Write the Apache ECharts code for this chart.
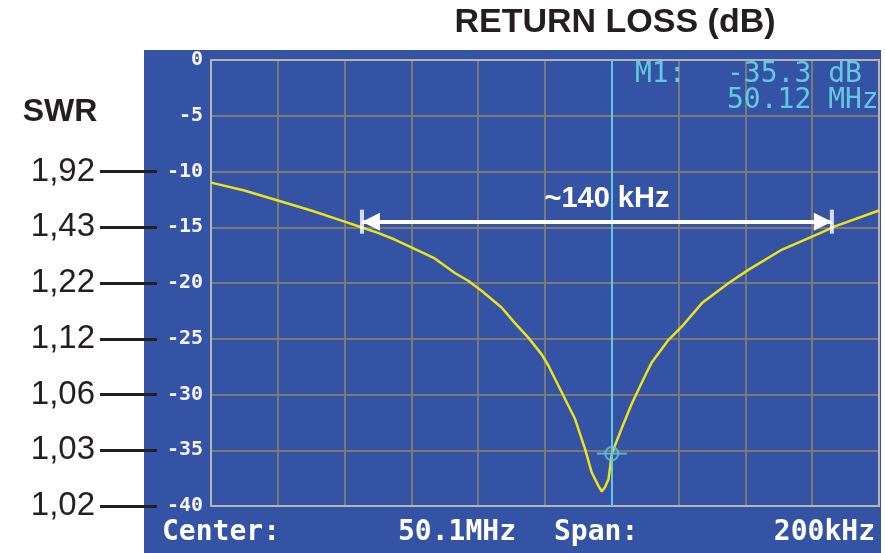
<!DOCTYPE html>
<html>
<head>
<meta charset="utf-8">
<title>Return loss</title>
<script src="https://cdn.jsdelivr.net/npm/echarts@6/dist/echarts.min.js"></script>
<style>
html, body { margin: 0; padding: 0; background: #fff; }
#chart { width: 885px; height: 553px; }
</style>
</head>
<body>
<div id="chart"></div>
<script>
// sweep: frequency (MHz) / return loss (dB)
var freqMHz = [50.000, 50.010, 50.020, 50.030, 50.040, 50.045, 50.050, 50.055, 50.060,
  50.067, 50.073, 50.077, 50.081, 50.087, 50.091, 50.095, 50.099, 50.101, 50.105,
  50.109, 50.112, 50.114, 50.116, 50.117, 50.118, 50.119, 50.1195, 50.120, 50.123,
  50.126, 50.130, 50.132, 50.137, 50.141, 50.147, 50.155, 50.161, 50.171, 50.181,
  50.187, 50.200];
var returnLossDb = [-11.0, -11.7, -12.6, -13.5, -14.5, -15.0, -15.5, -16.1, -16.8,
  -17.8, -19.1, -19.8, -20.7, -22.2, -23.6, -24.9, -26.4, -27.4, -29.8,
  -32.2, -34.9, -37.0, -38.2, -38.7, -38.3, -37.6, -36.5, -35.3, -33.0,
  -30.8, -28.3, -27.1, -25.1, -23.9, -21.8, -20.0, -18.8, -17.0, -15.7,
  -14.9, -13.5];

// SWR scale next to the dB ticks
var swrTicksDb = [-10, -15, -20, -25, -30, -35, -40];
var swrLabels = ['1,92', '1,43', '1,22', '1,12', '1,06', '1,03', '1,02'];

// marker M1
var markerFreq = 50.12;
var markerDb = -35.3;

// -15 dB bandwidth annotation
var spanStart = 50.0452;
var spanEnd = 50.1859;
var spanLevel = -14.5;
var spanText = '~140 kHz';

var chart = echarts.init(document.getElementById('chart'));
var blue = '#3453a4';
var cyan = '#62c9df';
var gridGray = '#7a7a7a';
var mono = '"DejaVu Sans Mono", monospace';
var sans = '"Liberation Sans", Arial, sans-serif';

var curve = freqMHz.map(function (f, i) { return [f, returnLossDb[i]]; });

chart.setOption({
  animation: false,
  grid: { left: 211, top: 60, width: 668, height: 446 },
  xAxis: {
    type: 'value', min: 50.0, max: 50.2, interval: 0.02,
    axisLine: { show: false }, axisTick: { show: false }, axisLabel: { show: false },
    splitLine: { lineStyle: { color: gridGray, width: 2 } }
  },
  yAxis: [
    {
      type: 'value', min: -40, max: 0, interval: 5,
      axisLine: { show: false }, axisTick: { show: false },
      axisLabel: { color: '#f4f6fb', fontFamily: mono, fontSize: 20, fontWeight: 'bold', margin: 8 },
      splitLine: { lineStyle: { color: gridGray, width: 2 } }
    },
    {
      type: 'value', min: -40, max: 0, interval: 5, position: 'left', offset: 54,
      axisLine: { show: false },
      axisTick: { show: true, length: 57, customValues: swrTicksDb,
        lineStyle: { color: '#231f20', width: 3 } },
      axisLabel: {
        customValues: swrTicksDb, margin: 62, color: '#231f20',
        fontFamily: sans, fontSize: 33,
        formatter: function (v) {
          var i = swrTicksDb.indexOf(v);
          return i < 0 ? '' : swrLabels[i];
        }
      },
      splitLine: { show: false }
    }
  ],
  series: [
    {
      type: 'line', data: curve, showSymbol: false, symbol: 'none',
      lineStyle: { color: '#ece31a', width: 2.5 }, z: 3,
      markLine: {
        silent: true, symbol: 'none', label: { show: false },
        lineStyle: { color: cyan, width: 2, type: 'solid' },
        data: [{ xAxis: markerFreq }]
      }
    },
    {
      type: 'scatter', data: [[markerFreq, markerDb]], symbol: 'circle', symbolSize: 13,
      itemStyle: { color: 'rgba(0,0,0,0)', borderColor: cyan, borderWidth: 2 }, z: 4
    },
    {
      type: 'scatter', data: [[markerFreq, markerDb]], symbol: 'rect', symbolSize: [30, 2],
      itemStyle: { color: cyan }, z: 4
    },
    {
      type: 'scatter', data: [[spanStart, spanLevel], [spanEnd, spanLevel]],
      symbol: 'rect', symbolSize: [4, 24], itemStyle: { color: '#fff' }, z: 5,
      markLine: {
        silent: true, symbol: ['triangle', 'triangle'], symbolSize: 18,
        symbolOffset: [[0, 9], [0, 9]],
        lineStyle: { color: '#fff', width: 4, type: 'solid' },
        label: {
          show: true, position: 'insideMiddleTop', distance: 8, offset: [10, 0],
          formatter: spanText, color: '#fff', fontFamily: sans,
          fontSize: 29, fontWeight: 'bold'
        },
        data: [[{ coord: [spanStart, spanLevel] }, { coord: [spanEnd, spanLevel] }]]
      }
    }
  ],
  graphic: [
    { type: 'rect', z: -100, shape: { x: 144, y: 50, width: 737, height: 503 },
      style: { fill: blue } },
    { type: 'rect', z: 1, shape: { x: 211, y: 60, width: 668, height: 446 },
      style: { fill: 'none', stroke: '#b4b4b4', lineWidth: 2 } },
    { type: 'text', x: 615, y: 23, z: 10,
      style: { text: 'RETURN LOSS (dB)', font: 'bold 34px ' + sans, fill: '#231f20',
        textAlign: 'center', textVerticalAlign: 'middle' } },
    { type: 'text', x: 60, y: 112, z: 10,
      style: { text: 'SWR', font: 'bold 32px ' + sans, fill: '#231f20',
        textAlign: 'center', textVerticalAlign: 'middle' } },
    { type: 'text', x: 635, y: 75, z: 10,
      style: { text: 'M1:', font: '28px ' + mono, fill: cyan, textVerticalAlign: 'middle' } },
    { type: 'text', x: 727, y: 75, z: 10,
      style: { text: '-35.3 dB', font: '28px ' + mono, fill: cyan, textVerticalAlign: 'middle' } },
    { type: 'text', x: 727, y: 101, z: 10,
      style: { text: '50.12 MHz', font: '28px ' + mono, fill: cyan, textVerticalAlign: 'middle' } },
    { type: 'text', x: 162, y: 533, z: 10,
      style: { text: 'Center:', font: 'bold 28px ' + mono, fill: '#fff', textVerticalAlign: 'middle' } },
    { type: 'text', x: 398, y: 533, z: 10,
      style: { text: '50.1MHz', font: 'bold 28px ' + mono, fill: '#fff', textVerticalAlign: 'middle' } },
    { type: 'text', x: 554, y: 533, z: 10,
      style: { text: 'Span:', font: 'bold 28px ' + mono, fill: '#fff', textVerticalAlign: 'middle' } },
    { type: 'text', x: 875, y: 533, z: 10,
      style: { text: '200kHz', font: 'bold 28px ' + mono, fill: '#fff',
        textAlign: 'right', textVerticalAlign: 'middle' } }
  ]
});
</script>
</body>
</html>
